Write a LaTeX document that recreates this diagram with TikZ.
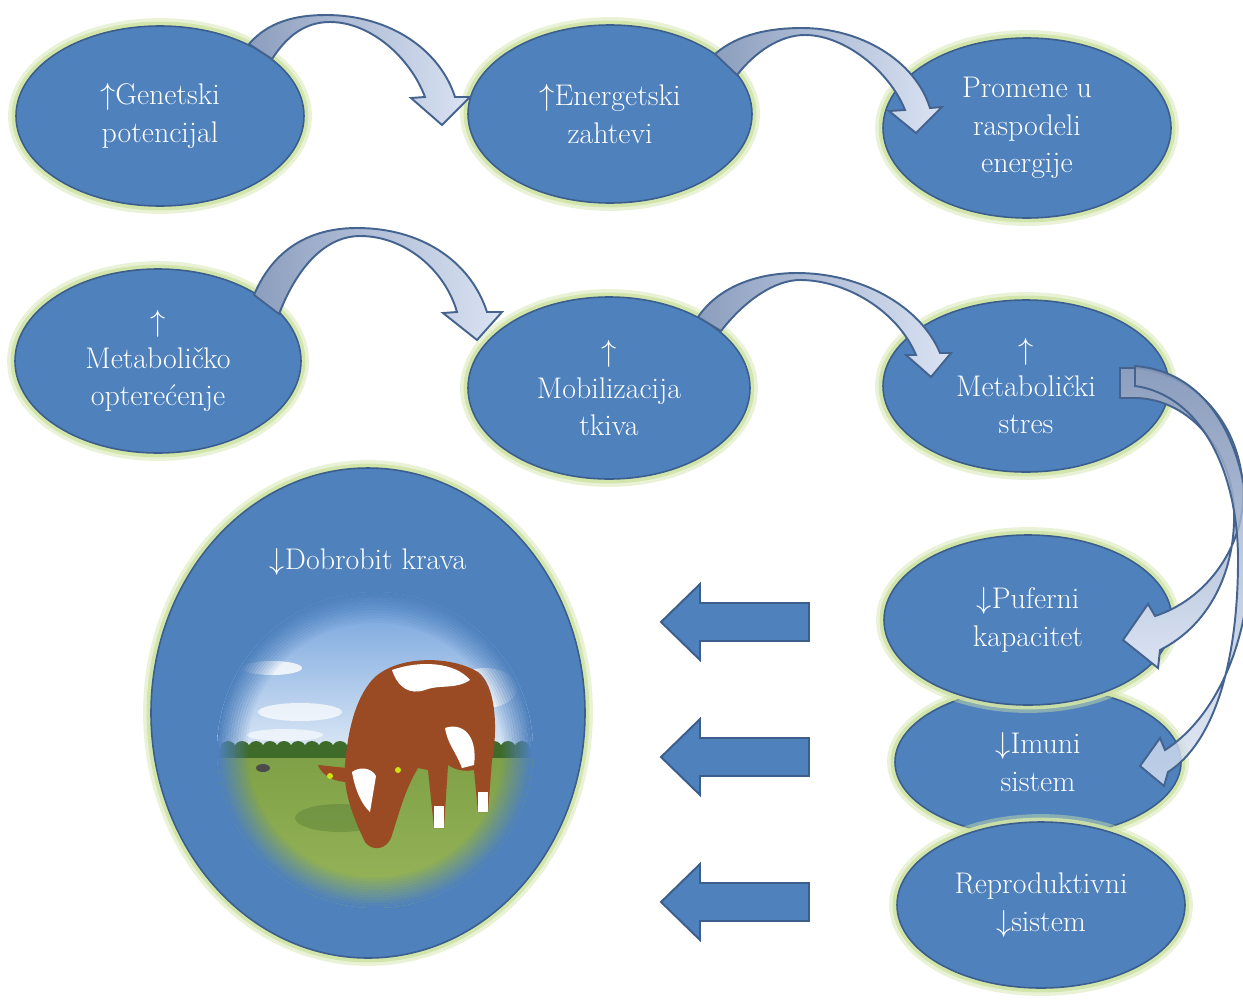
\documentclass[tikz,border=0pt]{standalone}
\usepackage{fontspec}
\usetikzlibrary{shapes.geometric}
\definecolor{bubbleFill}{HTML}{4F81BD}
\definecolor{bubbleLine}{HTML}{3B5E8C}
\definecolor{glowGreen}{HTML}{CFE3A6}
\definecolor{arrowDark}{HTML}{8C9EBE}
\definecolor{arrowLight}{HTML}{DAE3F3}
\definecolor{arrowLine}{HTML}{44648F}
\definecolor{skyTop}{HTML}{6E9FDC}
\definecolor{skyLow}{HTML}{DCE8F5}
\definecolor{treeGreen}{HTML}{3F6B2A}
\definecolor{grassTop}{HTML}{7FA046}
\definecolor{grassLow}{HTML}{9AB85C}
\definecolor{cowBrown}{HTML}{9A4B24}
\tikzset{
	bubble/.style={ellipse, draw=bubbleLine, line width=0.9pt, fill=bubbleFill, inner sep=0pt,
		text=white, align=center, font=\fontsize{17}{21.3}\selectfont,
		preaction={draw=glowGreen, line width=9pt, opacity=.45},
		preaction={draw=glowGreen, line width=5pt, opacity=.9}},
	bsize/.style 2 args={minimum width=#1*0.02cm, minimum height=#2*0.02cm},
	bend arrow/.style={draw=arrowLine, line width=1.1pt, left color=arrowDark, right color=arrowLight},
	drop arrow/.style={draw=arrowLine, line width=1.1pt, top color=arrowDark, bottom color=arrowLight},
	flat arrow/.style={draw=bubbleLine, line width=1.1pt, fill=bubbleFill},
}

\begin{document}
\begin{tikzpicture}[x=0.02cm, y=-0.02cm]
		%%%%% START %%%%%
		\useasboundingbox (0,0) rectangle (1243,1001);
		\clip (0,0) rectangle (1243,1001);
		
		\node[bubble, bsize={288}{180}] (gen) at (160,116) {$\uparrow$Genetski\\potencijal};
		\node[bubble, bsize={284}{178}] (ener) at (610,114) {$\uparrow$Energetski\\zahtevi};
		\node[bubble, bsize={288}{180}] (prom) at (1027,128) {Promene u\\raspodeli\\energije};
		
		\node[bubble, bsize={286}{184}] (opt) at (158,361) {$\uparrow$\\Metaboličko\\opterećenje};
		\node[bubble, bsize={282}{182}] (mob) at (609,388) {$\uparrow$\\Mobilizacija\\tkiva};
		\node[bubble, bsize={286}{172}] (stres) at (1026,386) {$\uparrow$\\Metabolički\\stres};
		
		\node[bubble, bsize={434}{490}] (dob) at (368,713) {};
		\node[bubble, bsize={286}{150}] (imu) at (1038,762) {$\downarrow$Imuni\\sistem};
		\node[bubble, bsize={288}{170}] (puf) at (1028,620) {$\downarrow$Puferni\\kapacitet};
		\node[bubble, bsize={288}{166}] (rep) at (1041,905) {Reproduktivni\\$\downarrow$sistem};
		
		\node[text=white, font=\fontsize{17}{21.3}\selectfont] (dobtitle) at (368,562) {$\downarrow$Dobrobit krava};
		
		% cow picture
		\begin{scope}
			\clip (375,750) circle [radius=158];
			\shade[top color=skyTop, bottom color=skyLow] (200,590) rectangle (550,752);
			\fill[white, opacity=.8] (272,668) ellipse [x radius=30, y radius=7];
			\fill[white, opacity=.7] (300,712) ellipse [x radius=42, y radius=9];
			\fill[white, opacity=.6] (285,735) ellipse [x radius=38, y radius=6];
			\fill[white, opacity=.8] (485,688) ellipse [x radius=32, y radius=20];
			\shade[top color=grassTop, bottom color=grassLow] (200,755) rectangle (550,920);
			\foreach \x in {228,242,...,524} \fill[treeGreen] (\x,749) circle [radius=8];
			\fill[treeGreen] (200,748) rectangle (550,758);
			\fill[treeGreen, opacity=.3] (340,818) ellipse [x radius=45, y radius=14];
			\fill[black!70] (263,768) ellipse [x radius=7, y radius=4];
			
			\fill[cowBrown] (372,680) .. controls (395,655) and (450,655) .. (478,672) .. controls (496,685) and (498,730) .. (492,760) -- (488,812) -- (478,812) -- (474,770) .. controls (465,772) and (455,770) .. (448,765) -- (444,828) -- (434,828) -- (428,770) -- (418,768) .. controls (405,790) and (400,810) .. (392,835) .. controls (388,850) and (372,852) .. (365,842) .. controls (352,815) and (343,790) .. (345,765) .. controls (348,730) and (355,700) .. (372,680) -- cycle;
			\fill[white] (392,670) .. controls (420,660) and (455,662) .. (470,680) .. controls (455,690) and (440,684) .. (425,690) .. controls (410,695) and (398,688) .. (392,670) -- cycle;
			\fill[white] (445,728) .. controls (462,722) and (478,735) .. (474,765) -- (462,768) .. controls (455,750) and (448,745) .. (445,728) -- cycle;
			\fill[white] (352,772) .. controls (360,766) and (372,768) .. (376,776) -- (370,812) .. controls (362,805) and (355,790) .. (352,772) -- cycle;
			\fill[white] (434,806) rectangle (444,828);
			\fill[white] (478,792) rectangle (488,812);
			\fill[cowBrown] (347,768) -- (318,765) .. controls (322,776) and (335,782) .. (348,782) -- cycle;
			\fill[cowBrown] (385,770) -- (405,758) .. controls (406,768) and (398,778) .. (386,782) -- cycle;
			\fill[yellow!80!green] (330,776) circle [radius=3];
			\fill[yellow!80!green] (398,770) circle [radius=3];
			
			\foreach \i in {1,...,12}
				\draw[bubbleFill, opacity=\i/12, line width=1.6pt] (375,750) circle [radius={126+2.6*\i}];
		\end{scope}
		
		% curved arrows
		\draw[bend arrow] (249,44) .. controls (268,22) and (295,15) .. (326,15) .. controls (390,15) and (440,50) .. (455,97) -- (470,97) -- (442,125) -- (411,98) -- (425,97) .. controls (410,57) and (370,22) .. (330,22) .. controls (305,22) and (287,36) .. (272,59) -- cycle;
		\draw[bend arrow] (715,54) .. controls (738,34) and (770,28) .. (802,28) .. controls (860,28) and (915,60) .. (930,108) -- (942,107) -- (916,133) -- (889,111) -- (905,110) .. controls (890,72) and (845,35) .. (805,35) .. controls (780,35) and (755,52) .. (737,75) -- cycle;
		\draw[bend arrow] (254,295) .. controls (275,245) and (315,228) .. (357,228) .. controls (420,228) and (470,260) .. (487,312) -- (502,312) -- (477,340) -- (443,313) -- (457,312) .. controls (445,270) and (405,236) .. (360,236) .. controls (330,236) and (300,260) .. (279,314) -- cycle;
		\draw[bend arrow] (698,317) .. controls (720,285) and (760,273) .. (797,273) .. controls (860,273) and (920,305) .. (940,353) -- (951,353) -- (931,377) -- (906,355) -- (916,355) .. controls (897,310) and (845,280) .. (800,280) .. controls (775,280) and (745,300) .. (721,331) -- cycle;
		
		\draw[drop arrow] (1120,368) -- (1137,368) .. controls (1200,375) and (1245,430) .. (1243,500) .. controls (1241,550) and (1205,600) .. (1155,616) -- (1148,604) -- (1123,640) -- (1158,668) -- (1160,650) .. controls (1210,625) and (1236,570) .. (1234,510) .. controls (1232,450) and (1190,400) .. (1137,398) -- (1120,398) -- cycle;
		\draw[drop arrow, fill opacity=.8] (1135,366) .. controls (1212,372) and (1252,450) .. (1250,560) .. controls (1248,650) and (1212,720) .. (1165,750) -- (1160,738) -- (1140,766) -- (1164,786) -- (1168,772) .. controls (1215,742) and (1238,660) .. (1238,560) .. controls (1238,470) and (1200,395) .. (1135,386) -- cycle;
		
		% straight arrows
		\foreach \y in {622,757,902}
			\draw[flat arrow] (809,\y-19) -- (700,\y-19) -- (700,\y-38) -- (661,\y) -- (700,\y+38) -- (700,\y+19) -- (809,\y+19) -- cycle;
		
		%%%%% END %%%%%
\end{tikzpicture}
\end{document}
